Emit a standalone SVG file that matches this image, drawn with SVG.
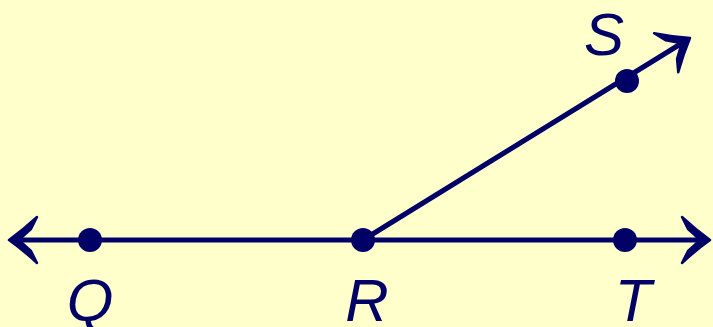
<svg xmlns="http://www.w3.org/2000/svg" width="713" height="327" viewBox="0 0 713 327">
<style>
.ln{stroke:#000066;stroke-width:5;fill:none;stroke-linecap:butt}
.pt{fill:#000066}
.lb{font-family:"Liberation Sans",Arial,sans-serif;font-style:italic;font-size:60px;fill:#000066;text-anchor:middle}
</style>
<defs>
<path id="ah" d="M0,0 Q-14,-10 -28,-23 L-22,-11 Q-15,-5 -10,0 Q-15,5 -22,11 L-28,23 Q-14,10 0,0 Z" fill="#000066" stroke="#000066" stroke-width="2.5" stroke-linejoin="round"/>
</defs>
<rect width="713" height="327" fill="#FFFFCC"/>
<g id="connectors">
<line class="ln" x1="12" y1="240" x2="707" y2="240"/>
<line class="ln" x1="363" y1="240" x2="687" y2="40"/>
<use href="#ah" transform="translate(9,240) rotate(180)"/>
<use href="#ah" transform="translate(710,240)"/>
<use href="#ah" transform="translate(690,38) rotate(-31.7)"/>
</g>
<g id="Q"><circle class="pt" cx="90" cy="240" r="12"/><text class="lb" x="90" y="321">Q</text></g>
<g id="R"><circle class="pt" cx="363" cy="240" r="12"/><text class="lb" x="367" y="321">R</text></g>
<g id="T"><circle class="pt" cx="625" cy="240" r="12"/><text class="lb" x="633" y="321">T</text></g>
<g id="S"><circle class="pt" cx="627" cy="81" r="12"/><text class="lb" x="604" y="55">S</text></g>
</svg>
